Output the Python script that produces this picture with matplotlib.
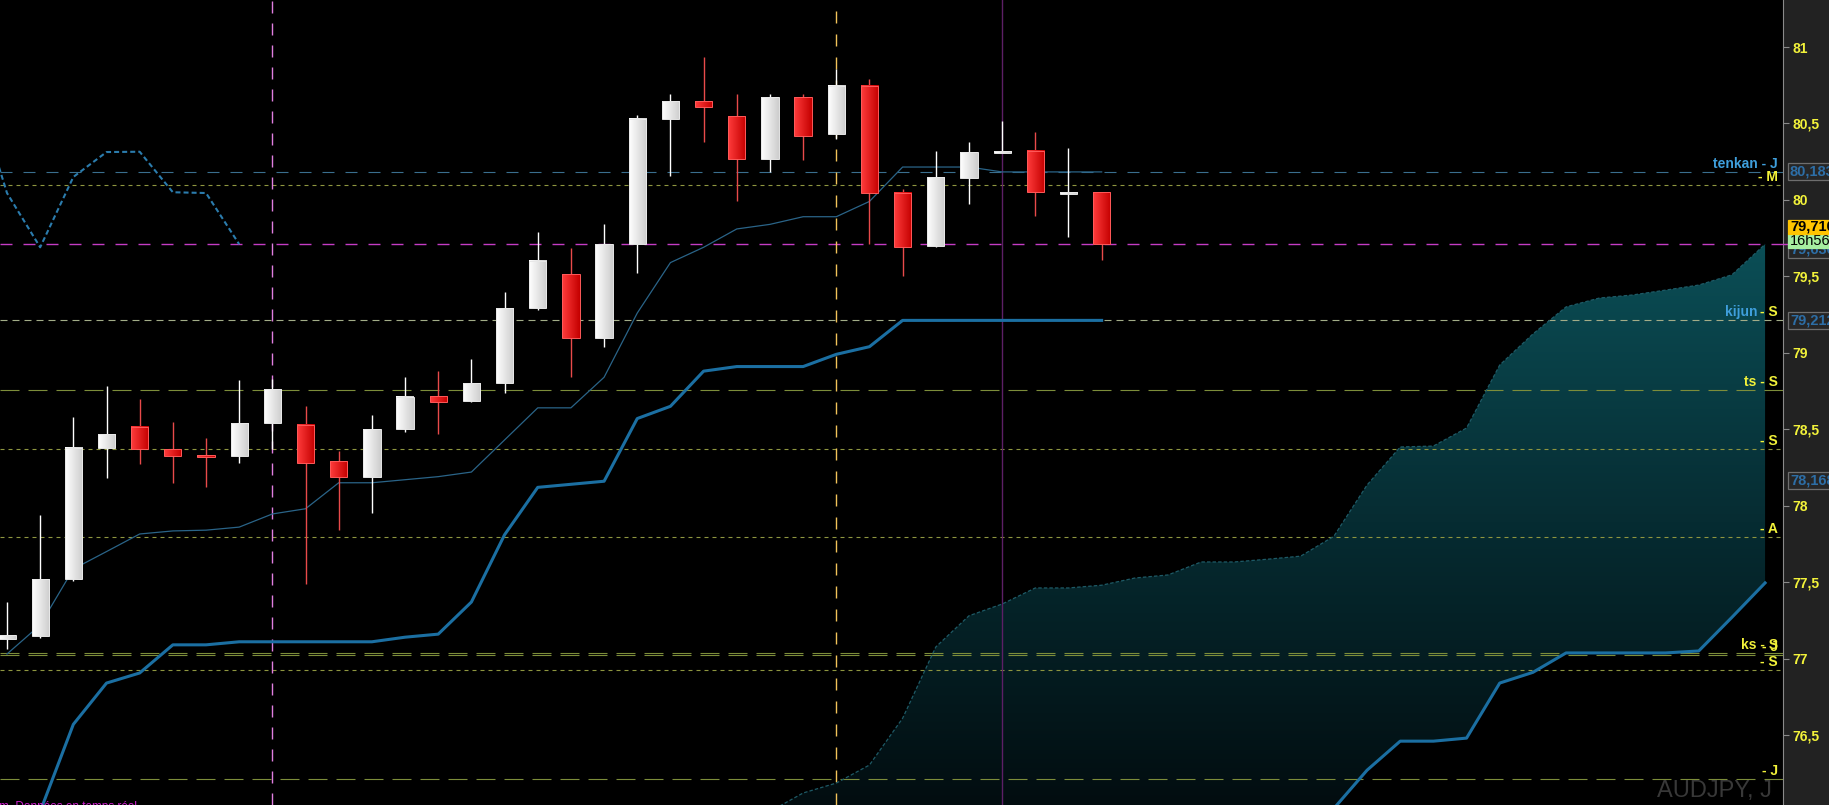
import matplotlib
matplotlib.use("Agg")
import numpy as np
import matplotlib.pyplot as plt
from matplotlib.colors import LinearSegmentedColormap
from matplotlib.patches import Rectangle, PathPatch
from matplotlib.transforms import blended_transform_factory, offset_copy

plt.rcParams['font.family'] = ['Liberation Sans', 'DejaVu Sans']
plt.rcParams['lines.scale_dashes'] = False

# --- daily candles (AUDJPY) ---
opens = [77.128, 77.15, 77.52, 78.38, 78.515, 78.37, 78.33, 78.325, 78.54, 78.53,
         78.29, 78.19, 78.50, 78.717, 78.685, 78.80, 79.29, 79.515, 79.10, 79.71,
         80.53, 80.647, 80.55, 80.27, 80.673, 80.43, 80.745, 80.045, 79.70, 80.143,
         80.31, 80.32, 80.04, 80.05]
highs = [77.37, 77.94, 78.58, 78.78, 78.70, 78.55, 78.44, 78.82, 78.83, 78.65,
         78.36, 78.59, 78.84, 78.88, 78.96, 79.40, 79.79, 79.685, 79.84, 80.555,
         80.69, 80.935, 80.69, 80.69, 80.69, 80.856, 80.79, 80.07, 80.32, 80.38,
         80.516, 80.444, 80.34, 80.05]
lows = [77.063, 77.135, 77.51, 78.18, 78.27, 78.15, 78.12, 78.28, 78.37, 77.49,
        77.84, 77.95, 78.48, 78.47, 78.68, 78.74, 79.28, 78.84, 79.04, 79.52,
        80.156, 80.38, 79.99, 80.18, 80.26, 80.40, 79.71, 79.50, 79.69, 79.97,
        80.31, 79.895, 79.757, 79.61]
closes = [77.154, 77.52, 78.38, 78.47, 78.37, 78.325, 78.32, 78.54, 78.76, 78.28,
          78.19, 78.50, 78.71, 78.68, 78.80, 79.29, 79.60, 79.097, 79.71, 80.53,
          80.647, 80.61, 80.27, 80.673, 80.42, 80.745, 80.045, 79.69, 80.15, 80.313,
          80.315, 80.05, 80.045, 79.71]

# --- ichimoku ---
tenkan = [77.03, 77.22, 77.586, 77.70, 77.815, 77.835, 77.84, 77.86, 77.946, 77.98,
          78.15, 78.15, 78.17, 78.19, 78.22, 78.43, 78.64, 78.64, 78.84, 79.26,
          79.59, 79.69, 79.81, 79.84, 79.89, 79.89, 79.99, 80.215, 80.215, 80.215,
          80.183, 80.183, 80.183, 80.183]
kijun = [75.58, 76.00, 76.57, 76.84, 76.906, 77.09, 77.09, 77.11, 77.11, 77.11,
         77.11, 77.11, 77.14, 77.16, 77.37, 77.81, 78.12, 78.14, 78.16, 78.57,
         78.65, 78.88, 78.91, 78.91, 78.91, 78.99, 79.04, 79.212, 79.212, 79.212,
         79.212, 79.212, 79.212, 79.212]
cloud_start = 23
span_a = [76.00, 76.121, 76.186, 76.304, 76.61, 77.076, 77.28, 77.357, 77.462, 77.462,
          77.48, 77.527, 77.547, 77.632, 77.632, 77.65, 77.67, 77.80, 78.135, 78.384,
          78.39, 78.508, 78.92, 79.123, 79.30, 79.358, 79.378, 79.41, 79.443, 79.51,
          79.71]
span_b = [75.30, 75.30, 75.35, 75.35, 75.40, 75.45, 75.45, 75.50, 75.50, 75.55,
          75.60, 75.60, 75.65, 75.70, 75.70, 75.75, 75.81, 76.02, 76.27, 76.46,
          76.46, 76.48, 76.84, 76.91, 77.037, 77.037, 77.037, 77.037, 77.05, 77.27,
          77.495]
chikou_shift = 26

# --- horizontal levels and their tags ---
level_values = [80.183, 80.097, 79.71, 79.212, 78.757, 78.37, 77.795, 77.037, 77.025, 76.925, 76.21]
level_tags = ["tenkan - J", "- M", "", "- S", "ts - S", "- S", "- A", "ks - S", "- J", "- S", "- J"]
level_kinds = ["blue", "short", "price", "kijun", "long", "short", "short", "long", "long", "short", "long"]

# --- marked days ---
vline_days = [8, 25, 30]

# --- axis ---
yticks = [76.5, 77, 77.5, 78, 78.5, 79, 79.5, 80, 80.5, 81]
axis_boxes = [(80.183, "80,183"), (79.212, "79,212"), (78.168, "78,168")]
hidden_box = (79.636, "79,636")
last_price = 79.71
last_label = "79,710"
timer_label = "16h56m"
symbol = "AUDJPY, J"
footer = "ProRealTime.com. Données en temps réel"

W, H = 1829, 805
PX = 0.72  # points per pixel at dpi 100
fig = plt.figure(figsize=(W / 100, H / 100), dpi=100, facecolor='#222222')
ax = fig.add_axes([0, 0, 1783 / W, 1])
ax.set_facecolor('black')

YELLOW = '#f2f23a'
BLUE_TXT = '#3f9fdc'

# cloud with vertical gradient
xs = np.arange(cloud_start, cloud_start + len(span_a))
poly = ax.fill_between(xs, span_a, span_b, facecolor='none', edgecolor='none')
clip = PathPatch(poly.get_paths()[0], transform=ax.transData, facecolor='none', edgecolor='none')
ax.add_patch(clip)
cloud_cmap = LinearSegmentedColormap.from_list('cloud', ['#020d10', '#062c32', '#0b4f57'])
grad = np.linspace(1, 0, 256).reshape(-1, 1)
im = ax.imshow(grad, cmap=cloud_cmap, extent=(cloud_start, xs[-1], 76.04, 79.75),
               aspect='auto', zorder=1, interpolation='bilinear')
im.set_clip_path(clip)
ax.plot(xs, span_a, color='#1e5a66', lw=0.9, dashes=(2.5, 1.5), zorder=3)
ax.plot(xs, span_b, color='#1b6fa2', lw=2.2, zorder=3)

# horizontal levels
styles = {
    'blue': dict(color='#3a6e8e', lw=0.8, dashes=(12 * PX, 11 * PX)),
    'short': dict(color='#8f9640', lw=0.8, dashes=(4 * PX, 4 * PX)),
    'long': dict(color='#7d8d3a', lw=0.8, dashes=(19 * PX, 9 * PX)),
    'price': dict(color='#c43cc4', lw=1.0, dashes=(12 * PX, 11 * PX)),
    'kijun': dict(color='#a3ad88', lw=0.8, dashes=(7 * PX, 5 * PX)),
}
for v, k in zip(level_values, level_kinds):
    ax.axhline(v, zorder=2, **styles[k])

# vertical markers
ax.axvline(vline_days[0], color='#e07ee0', lw=1.0, dashes=(12 * PX, 10 * PX), zorder=2)
ax.axvline(vline_days[1], color='#f2c35a', lw=1.0, dashes=(12 * PX, 11 * PX), zorder=2)
ax.axvline(vline_days[2], color='#5c1f66', lw=1.0, zorder=2)

# tenkan, kijun, chikou
days = np.arange(len(closes))
ax.plot(days, tenkan, color='#2a6488', lw=0.9, zorder=3)
ax.plot(days, kijun, color='#1b6fa2', lw=2.2, zorder=3)
ck_x = days[chikou_shift - 1:] - chikou_shift
ck_y = closes[chikou_shift - 1:]
ax.plot(ck_x, ck_y, color='#2b7cad', lw=1.5, dashes=(3.6, 2.2), zorder=3)

# candles
w = 0.52
white_cm = LinearSegmentedColormap.from_list('w', ['#ffffff', '#cdcdcd'])
red_cm = LinearSegmentedColormap.from_list('r', ['#ff3c3c', '#c40000'])
hgrad = np.linspace(0, 1, 64).reshape(1, -1)
for i, (o, h, l, c) in enumerate(zip(opens, highs, lows, closes)):
    up = c >= o
    ax.vlines(i, l, h, color='white' if up else '#e84a4a', lw=1.0, zorder=4)
    lo, hi = min(o, c), max(o, c)
    if hi - lo < 0.012:
        mid = (hi + lo) / 2
        lo, hi = mid - 0.006, mid + 0.006
    ax.imshow(hgrad, cmap=white_cm if up else red_cm, extent=(i - w / 2, i + w / 2, lo, hi),
              aspect='auto', zorder=5, interpolation='bilinear')
    ax.add_patch(Rectangle((i - w / 2, lo), w, hi - lo, fill=False,
                           ec='#e8e8e8' if up else '#ff5a5a', lw=0.7, zorder=6))

ax.set_xlim(-0.211, 53.54)
ax.set_ylim(76.0425, 81.3074)

# level tags
bt = blended_transform_factory(ax.transAxes, ax.transData)
for v, tag, k in zip(level_values, level_tags, level_kinds):
    if not tag:
        continue
    tr = offset_copy(bt, fig=fig, x=-5, y=4, units='dots')
    col = BLUE_TXT if k == 'blue' else YELLOW
    ax.text(1.0, v, tag, transform=tr, ha='right', va='baseline', color=col,
            fontsize=10, fontweight='bold', zorder=10)
    if k == 'kijun':
        tr2 = offset_copy(bt, fig=fig, x=-25, y=4, units='dots')
        ax.text(1.0, v, "kijun", transform=tr2, ha='right', va='baseline', color=BLUE_TXT,
                fontsize=10, fontweight='bold', zorder=10)

# right price axis
ax.yaxis.tick_right()
ax.set_yticks(yticks)
ax.set_yticklabels([("%g" % t).replace('.', ',') for t in yticks])
ax.tick_params(axis='y', direction='out', length=4, width=0.8, color='#8a8a8a',
               labelcolor=YELLOW, pad=3, labelsize=10)
for lab in ax.get_yticklabels():
    lab.set_fontweight('bold')
ax.set_xticks([])
for s in ['top', 'left', 'bottom']:
    ax.spines[s].set_visible(False)
ax.spines['right'].set_color('#8a8a8a')
ax.spines['right'].set_linewidth(0.8)

# price boxes on the axis strip, drawn in pixel coordinates
axr = fig.add_axes([1783 / W, 0, 46 / W, 1])
axr.set_xlim(1783, 1829)
axr.set_ylim(0, H)
axr.axis('off')


def ypx(v):
    return ax.transData.transform((0, v))[1]


def box(yc, text, fc, ec, tc, bold=True, hgt=17, z=1):
    axr.add_patch(Rectangle((1788, yc - hgt / 2), 60, hgt, fc=fc, ec=ec, lw=0.9, zorder=z))
    axr.text(1790, yc, text, ha='left', va='center', color=tc, fontsize=10.5,
             fontweight='bold' if bold else 'normal', zorder=z + 0.5)


for v, txt in axis_boxes:
    box(ypx(v), txt, '#262626', '#6e6e6e', '#2d6ea6')
box(ypx(hidden_box[0]) + 6, hidden_box[1], '#262626', '#6e6e6e', '#2d6ea6', z=2)
box(ypx(last_price) + 3.5, timer_label, '#a6eea0', '#a6eea0', 'black', bold=False, hgt=14, z=3)
box(ypx(last_price) + 17.5, last_label, '#ffc400', '#ffc400', 'black', hgt=14, z=4)
axr.plot([1783, 1788], [ypx(last_price)] * 2, color='#c43cc4', lw=1.0)

fig.text(1772 / W, 8 / H, symbol, ha='right', va='baseline', fontsize=17, color='#383838')
fig.text(137 / W, -5 / H, footer, ha='right', va='baseline', fontsize=8.5, color='#d020d0')

fig.savefig('out.png', dpi=100, facecolor=fig.get_facecolor())
